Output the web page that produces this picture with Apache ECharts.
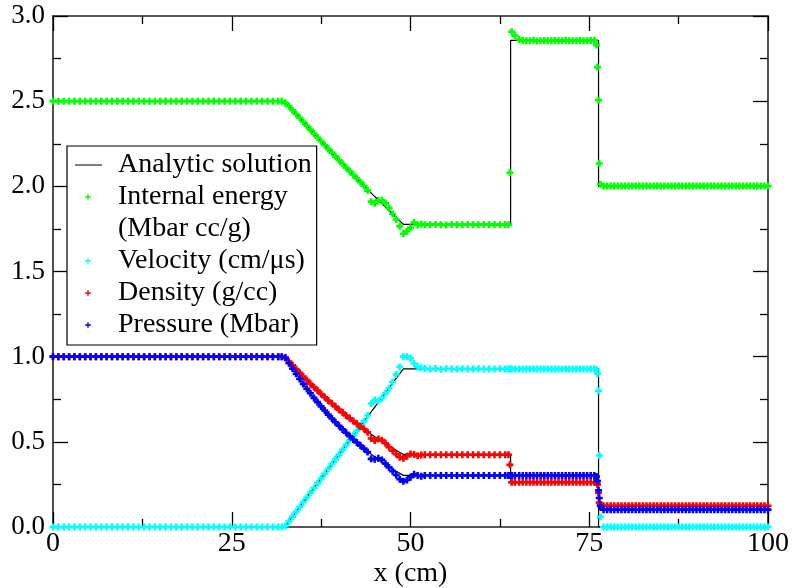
<!DOCTYPE html>
<html><head><meta charset="utf-8">
<script src="https://cdn.jsdelivr.net/npm/echarts/dist/echarts.min.js"></script>
<style>html,body{margin:0;padding:0;background:#fff}#c{width:794px;height:588px}</style>
</head><body><div id="c"></div>
<script>
// ---------- simulation (markers) ----------
const simX = [
 0,0.75,1.5,2.25,3,3.75,4.5,5.25,6,6.75,7.5,8.25,9,9.75,10.5,11.25,12,12.75,13.5,14.25,15,15.75,16.5,17.25,18,18.75,19.5,20.25,21,21.75,22.5,23.25,24,24.75,25.5,26.25,27,27.75,28.5,29.25,30,30.75,31.5,
 32,32.5,33,33.5,34,34.5,35,35.5,36,36.5,37,37.5,38,38.5,39,39.5,40,40.5,41,41.5,42,42.5,43,43.5,44,44.5,45,45.5,46,46.5,47,47.5,48,48.5,49,49.5,50,50.5,51,51.5,52,
 52.75,53.5,54.25,55,55.75,56.5,57.25,58,58.75,59.5,60.25,61,61.75,62.5,63.25,
 63.7,63.9,64.15,64.6,65.2,65.7,66.2,66.7,67.2,67.7,68.2,68.7,69.2,69.7,70.2,70.7,71.2,71.7,72.2,72.7,73.2,73.7,74.2,74.7,75.2,75.7,
 76,76.15,76.3,76.4,76.55,
 77,77.5,78,78.5,79,79.5,80,80.5,81,81.5,82,82.5,83,83.5,84,84.5,85,85.5,86,86.5,87,87.5,88,88.5,89,89.5,90,90.5,91,91.5,92,92.5,93,93.5,94,94.5,95,95.5,96,96.5,97,97.5,98,98.5,99,99.5,100
];
const energy = [
 2.5,2.5,2.5,2.5,2.5,2.5,2.5,2.5,2.5,2.5,2.5,2.5,2.5,2.5,2.5,2.5,2.5,2.5,2.5,2.5,2.5,2.5,2.5,2.5,2.5,2.5,2.5,2.5,2.5,2.5,2.5,2.5,2.5,2.5,2.5,2.5,2.5,2.5,2.5,2.5,2.5,2.5,2.5,
 2.499,2.49,2.47,2.447,2.425,2.402,2.379,2.356,2.333,2.31,2.287,2.265,2.242,2.22,2.198,2.176,2.154,2.132,2.11,2.089,2.067,2.046,2.024,2.003,1.975,1.91,1.9,1.918,1.918,1.9,1.873,1.838,1.805,1.765,1.722,1.737,1.757,1.787,1.773,1.778,1.775,
 1.774,1.776,1.775,1.773,1.776,1.775,1.774,1.776,1.775,1.774,1.776,1.775,1.775,1.774,1.776,
 1.775,2.08,2.908,2.885,2.862,2.856,2.854,2.855,2.857,2.853,2.855,2.856,2.854,2.855,2.856,2.854,2.855,2.857,2.855,2.854,2.855,2.856,2.855,2.854,2.856,2.858,
 2.83,2.7,2.506,2.134,2.012,
 2.002,2.002,2.002,2.002,2.002,2.002,2.002,2.002,2.002,2.002,2.002,2.002,2.002,2.002,2.002,2.002,2.002,2.002,2.002,2.002,2.002,2.002,2.002,2.002,2.002,2.002,2.002,2.002,2.002,2.002,2.002,2.002,2.002,2.002,2.002,2.002,2.002,2.002,2.002,2.002,2.002,2.002,2.002,2.002,2.002,2.002,2.002
];
const velocity = [
 0,0,0,0,0,0,0,0,0,0,0,0,0,0,0,0,0,0,0,0,0,0,0,0,0,0,0,0,0,0,0,0,0,0,0,0,0,0,0,0,0,0,0,
 0,0.006,0.033,0.061,0.089,0.117,0.145,0.173,0.201,0.229,0.257,0.285,0.313,0.341,0.369,0.397,0.425,0.453,0.481,0.509,0.537,0.565,0.593,0.62,0.655,0.725,0.745,0.738,0.757,0.785,0.815,0.85,0.895,0.94,1.0,1.0,0.99,0.96,0.94,0.935,0.93,
 0.927,0.93,0.926,0.929,0.928,0.927,0.929,0.928,0.927,0.929,0.928,0.927,0.928,0.929,0.928,
 0.928,0.928,0.928,0.928,0.928,0.928,0.928,0.928,0.928,0.928,0.928,0.928,0.928,0.928,0.928,0.928,0.928,0.928,0.928,0.928,0.928,0.928,0.928,0.928,0.928,0.928,
 0.925,0.9,0.8,0.42,0.06,
 0,0,0,0,0,0,0,0,0,0,0,0,0,0,0,0,0,0,0,0,0,0,0,0,0,0,0,0,0,0,0,0,0,0,0,0,0,0,0,0,0,0,0,0,0,0,0
];
const density = [
 1,1,1,1,1,1,1,1,1,1,1,1,1,1,1,1,1,1,1,1,1,1,1,1,1,1,1,1,1,1,1,1,1,1,1,1,1,1,1,1,1,1,1,
 1,0.995,0.972,0.949,0.927,0.905,0.883,0.862,0.841,0.821,0.801,0.781,0.762,0.743,0.725,0.707,0.689,0.672,0.655,0.638,0.622,0.606,0.59,0.575,0.556,0.52,0.508,0.516,0.51,0.492,0.468,0.448,0.428,0.41,0.403,0.415,0.428,0.425,0.418,0.423,0.424,
 0.424,0.424,0.424,0.424,0.424,0.424,0.424,0.424,0.424,0.424,0.424,0.424,0.424,0.424,0.424,
 0.424,0.365,0.262,0.262,0.263,0.263,0.263,0.263,0.263,0.263,0.263,0.263,0.263,0.263,0.263,0.263,0.263,0.263,0.263,0.263,0.263,0.263,0.263,0.263,0.263,0.263,
 0.262,0.25,0.2,0.143,0.13,
 0.125,0.125,0.125,0.125,0.125,0.125,0.125,0.125,0.125,0.125,0.125,0.125,0.125,0.125,0.125,0.125,0.125,0.125,0.125,0.125,0.125,0.125,0.125,0.125,0.125,0.125,0.125,0.125,0.125,0.125,0.125,0.125,0.125,0.125,0.125,0.125,0.125,0.125,0.125,0.125,0.125,0.125,0.125,0.125,0.125,0.125,0.125
];
const pressure = [
 1,1,1,1,1,1,1,1,1,1,1,1,1,1,1,1,1,1,1,1,1,1,1,1,1,1,1,1,1,1,1,1,1,1,1,1,1,1,1,1,1,1,1,
 1,0.993,0.961,0.93,0.899,0.869,0.84,0.812,0.785,0.758,0.733,0.708,0.684,0.66,0.637,0.615,0.594,0.573,0.553,0.533,0.514,0.496,0.478,0.46,0.44,0.4,0.398,0.404,0.394,0.372,0.35,0.328,0.305,0.28,0.268,0.276,0.292,0.31,0.302,0.298,0.302,
 0.302,0.302,0.302,0.302,0.302,0.302,0.302,0.302,0.302,0.302,0.302,0.302,0.302,0.302,0.302,
 0.302,0.302,0.302,0.302,0.302,0.302,0.302,0.302,0.302,0.302,0.302,0.302,0.302,0.302,0.302,0.302,0.302,0.302,0.302,0.302,0.302,0.302,0.302,0.302,0.302,0.302,
 0.296,0.27,0.215,0.17,0.125,
 0.102,0.102,0.102,0.102,0.102,0.102,0.102,0.102,0.102,0.102,0.102,0.102,0.102,0.102,0.102,0.102,0.102,0.102,0.102,0.102,0.102,0.102,0.102,0.102,0.102,0.102,0.102,0.102,0.102,0.102,0.102,0.102,0.102,0.102,0.102,0.102,0.102,0.102,0.102,0.102,0.102,0.102,0.102,0.102,0.102,0.102,0.102
];
// ---------- analytic solution (lines) ----------
const anaX    = [0,32.4,33,34,35,36,37,38,39,40,41,42,43,44,45,46,47,48,49,64,64,76.3,76.3,100];
const anaE    = [2.5,2.5,2.472,2.425,2.379,2.333,2.287,2.242,2.198,2.154,2.110,2.067,2.024,1.982,1.940,1.899,1.858,1.817,1.777,1.777,2.857,2.857,2.0,2.0];
const anaU    = [0,0,0.0335,0.0894,0.1454,0.2013,0.2572,0.3131,0.3690,0.4249,0.4808,0.5367,0.5926,0.6485,0.7044,0.7603,0.8162,0.8721,0.928,0.928,0.928,0.928,0,0];
const anaRho  = [1,1,0.972,0.9268,0.883,0.8412,0.8007,0.762,0.7247,0.6889,0.6546,0.6216,0.5899,0.5596,0.5305,0.5027,0.476,0.4504,0.426,0.426,0.2656,0.2656,0.125,0.125];
const anaP    = [1,1,0.961,0.899,0.8402,0.7848,0.7327,0.6835,0.6371,0.5935,0.5525,0.5139,0.4777,0.4436,0.4117,0.3817,0.3537,0.3274,0.3031,0.3031,0.3031,0.3031,0.1,0.1];
// ---------- axis ticks / labels ----------
const xTicks = [0,25,50,75,100];
const yTicks = [0,0.5,1,1.5,2,2.5,3];
const legendNames = ['Analytic solution','Internal energy','(Mbar cc/g)','Velocity (cm/μs)','Density (g/cc)','Pressure (Mbar)'];

const FONT = 'Liberation Serif';
const PLUS = 'path://M2.2,0H4.8V2.2H7V4.8H4.8V7H2.2V4.8H0V2.2H2.2Z';
const BB = 'M0,0h0.01v0.01h-0.01z M37.99,9.99h0.01v0.01h-0.01z ';
const LEG_PLUS = 'path://' + BB + 'M12.3,2.2h1.4v2.1h2.1v1.4h-2.1v2.1h-1.4v-2.1h-2.1v-1.4h2.1z';
const LEG_LINE = 'path://' + BB + 'M0,4.4h27v1.2h-27z';

function pairs(xs, ys){ return xs.map((x,i)=>[x, ys[i]]); }

const chart = echarts.init(document.getElementById('c'), null, {renderer:'canvas'});

function axisCommon(){
  return {
    axisLine:{show:true, onZero:false, lineStyle:{color:'#222', width:1.6}},
    axisTick:{show:true, inside:true, length:15, lineStyle:{color:'#000', width:1.3}},
    minorTick:{show:true, splitNumber:2, length:8, lineStyle:{color:'#000', width:1.3}},
    splitLine:{show:false}, minorSplitLine:{show:false}
  };
}

const lineSeries = [anaE, anaU, anaRho, anaP].map(ys => ({
  name:'Analytic solution', type:'line', data:pairs(anaX, ys), symbol:'none',
  lineStyle:{color:'#000', width:1.2}, itemStyle:{color:'#000'}, z:2, silent:true, animation:false
}));
const simDefs = [
  ['Internal energy', energy, '#00ff00'],
  ['Velocity (cm/μs)', velocity, '#00ffff'],
  ['Density (g/cc)', density, '#ff0000'],
  ['Pressure (Mbar)', pressure, '#0000ff']
];
const scatterSeries = simDefs.map(([n, ys, c]) => ({
  name:n, type:'scatter', data:pairs(simX, ys), symbol:PLUS, symbolSize:7,
  itemStyle:{color:c, opacity:1}, z:3, silent:true, animation:false
}));
scatterSeries.push({name:'(Mbar cc/g)', type:'scatter', data:[], itemStyle:{color:'#fff'}});

const option = {
  animation:false,
  backgroundColor:'#fff',
  textStyle:{fontFamily:FONT},
  grid:{left:53, right:26, top:16, bottom:61, containLabel:false, outerBoundsMode:'none'},
  xAxis:[
    Object.assign({type:'value', min:xTicks[0], max:xTicks[xTicks.length-1], interval:25, position:'bottom',
      axisLabel:{show:true, fontFamily:FONT, fontSize:28, color:'#000', margin:3},
      name:'x (cm)', nameLocation:'middle', nameGap:33, nameMoveOverlap:false,
      nameTextStyle:{fontFamily:FONT, fontSize:28, color:'#000'}}, axisCommon()),
    Object.assign({type:'value', min:0, max:100, interval:25, position:'top', axisLabel:{show:false}}, axisCommon())
  ],
  yAxis:[
    Object.assign({type:'value', min:yTicks[0], max:yTicks[yTicks.length-1], interval:0.5, position:'left',
      axisLabel:{show:true, fontFamily:FONT, fontSize:27, color:'#000', margin:8, formatter:v=>v.toFixed(1)}}, axisCommon()),
    Object.assign({type:'value', min:0, max:3, interval:0.5, position:'right', axisLabel:{show:false}}, axisCommon())
  ],
  legend:{
    show:true, orient:'vertical', left:67, top:146, padding:[5,5,6,8],
    itemGap:4, itemWidth:38, itemHeight:10, selectedMode:false,
    borderColor:'#000', borderWidth:1.2, backgroundColor:'#fff',
    textStyle:{fontFamily:FONT, fontSize:28, lineHeight:28, color:'#000'},
    data:[
      {name:legendNames[0], icon:LEG_LINE},
      {name:legendNames[1], icon:LEG_PLUS},
      {name:legendNames[2], icon:'none'},
      {name:legendNames[3], icon:LEG_PLUS},
      {name:legendNames[4], icon:LEG_PLUS},
      {name:legendNames[5], icon:LEG_PLUS}
    ]
  },
  series: lineSeries.concat(scatterSeries)
};
chart.setOption(option);
</script>
</body></html>
